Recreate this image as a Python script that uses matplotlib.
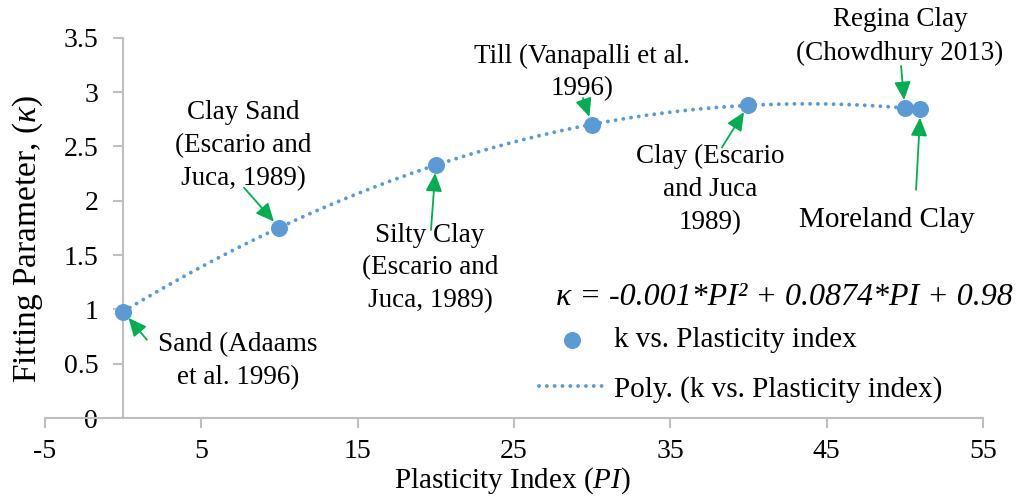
import numpy as np
import matplotlib
matplotlib.use("Agg")
import matplotlib.pyplot as plt

plt.rcParams['font.family'] = ['Liberation Serif', 'DejaVu Serif']
plt.rcParams['mathtext.fontset'] = 'custom'
plt.rcParams['mathtext.rm'] = 'Liberation Serif'
plt.rcParams['mathtext.it'] = 'Liberation Serif:italic'
plt.rcParams['axes.unicode_minus'] = False

# data
pi_vals = [0, 10, 20, 30, 40, 50, 51]
kappa_vals = [0.98, 1.75, 2.33, 2.70, 2.88, 2.85, 2.84]

labels = ["Sand (Adaams\net al. 1996)",
          "Clay Sand\n(Escario and\nJuca, 1989)",
          "Silty Clay\n(Escario and\nJuca, 1989)",
          "Till (Vanapalli et al.\n1996)",
          "Clay (Escario\nand Juca\n1989)",
          "Regina Clay\n(Chowdhury 2013)",
          "Moreland Clay"]
# text centre (data coords) and arrow start
text_pos = [(7.35, 0.52), (7.67, 2.51), (19.63, 1.38), (29.35, 3.18), (37.54, 2.10), (49.69, 3.51), (48.86, 1.82)]
arrow_from = [(1.52, 0.72), (7.73, 2.12), (19.69, 1.73), (29.41, 2.945), (38.3, 2.49), (49.76, 3.24), (50.72, 2.10)]

blue = '#5b9bd5'
green = '#00b050'
gray = '#bfbfbf'

fig = plt.figure(figsize=(10.2, 4.99), dpi=100)
ax = fig.add_axes([0.0441, 0.1623, 0.9196, 0.7622])

coef = np.polyfit(pi_vals, kappa_vals, 2)
xs = np.linspace(min(pi_vals), max(pi_vals), 300)
line, = ax.plot(xs, np.polyval(coef, xs), linestyle=(0, (0.01, 2.0)), color=blue, lw=2.8,
                dash_capstyle='round', zorder=2)
pts = ax.scatter(pi_vals, kappa_vals, s=150, color=blue, zorder=3, linewidths=0)

for lab, tp, af, x, y in zip(labels, text_pos, arrow_from, pi_vals, kappa_vals):
    fs = 21 if lab == "Moreland Clay" else 19.5
    ax.text(tp[0], tp[1], lab, ha='center', va='center', fontsize=fs, linespacing=1.42,
            clip_on=False)
    ax.annotate('', xy=(x, y), xytext=af, annotation_clip=False,
                arrowprops=dict(arrowstyle='-|>,head_length=1.1,head_width=0.5', color=green,
                                lw=1.3, shrinkA=0, shrinkB=6))

ax.text(1.032, 0.318, "κ = -0.001*PI² + 0.0874*PI + 0.98",
        transform=ax.transAxes, ha='right', va='center', fontsize=23, style='italic')

ax.set_xlim(-5, 55)
ax.set_ylim(0, 3.5)
ax.set_xticks(np.arange(-5, 56, 10))
ax.set_yticks(np.arange(0, 3.51, 0.5))
ax.set_yticklabels(['0', '0.5', '1', '1.5', '2', '2.5', '3', '3.5'])

ax.spines['left'].set_position(('data', 0))
ax.spines['right'].set_visible(False)
ax.spines['top'].set_visible(False)
for s in ('left', 'bottom'):
    ax.spines[s].set_color(gray)
    ax.spines[s].set_linewidth(1.5)
ax.tick_params(axis='both', colors=gray, labelcolor='black', labelsize=20, width=1.5, length=7)
ax.tick_params(axis='y', pad=11)
ax.tick_params(axis='x', pad=8)

fig.text(0.027, 0.521, r"Fitting Parameter, ($\mathit{\kappa}$)", rotation=90,
         ha='center', va='center', fontsize=24)
fig.text(0.502, 0.036, r"Plasticity Index ($\mathit{PI}$)", ha='center', va='center', fontsize=21)

leg = ax.legend([pts, line], ["k vs. Plasticity index", "Poly. (k vs. Plasticity index)"],
                loc='upper left', bbox_to_anchor=(0.528, 0.345), bbox_transform=fig.transFigure,
                frameon=False, fontsize=21, handlelength=2.3, handletextpad=0.3,
                labelspacing=0.78, borderpad=0, borderaxespad=0, scatterpoints=1)

fig.savefig("out.png", dpi=100)
